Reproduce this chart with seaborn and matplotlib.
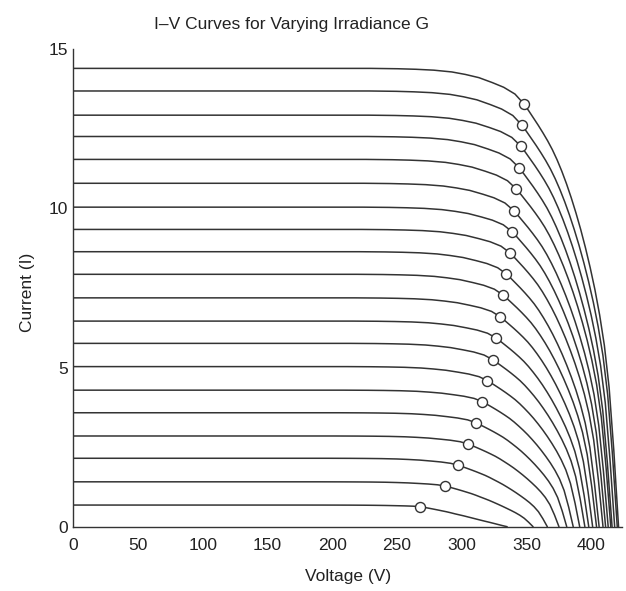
import numpy as np
import pandas as pd
import matplotlib
matplotlib.use("Agg")
import matplotlib.pyplot as plt
import seaborn as sns

# =====================
# DATA
# =====================
g_levels = [50, 100, 150, 200, 250, 300, 350, 400, 450, 500,
            550, 600, 650, 700, 750, 800, 850, 900, 950, 1000]

# short-circuit current of each curve (A)
isc = [0.68, 1.41, 2.15, 2.85, 3.58, 4.29, 5.03, 5.76, 6.46, 7.19,
       7.93, 8.64, 9.34, 10.04, 10.79, 11.54, 12.26, 12.93, 13.69, 14.40]
# open-circuit voltage of each curve (V)
voc = [335, 355, 366, 375, 381, 386, 391, 395, 398, 401,
       404, 406, 409, 411, 413, 415, 416, 418, 420, 421]
# maximum power points (circles)
vmp = [268.0, 287.0, 297.3, 304.8, 310.7, 315.8, 319.7, 323.7, 326.4, 329.5,
       331.8, 334.4, 337.0, 338.8, 340.1, 342.1, 344.2, 345.5, 346.3, 348.0]
imp = [0.63, 1.28, 1.93, 2.60, 3.27, 3.93, 4.59, 5.25, 5.93, 6.60,
       7.28, 7.94, 8.61, 9.27, 9.93, 10.61, 11.28, 11.96, 12.62, 13.28]

# knee before the MPP: V / Vmp  vs  share of the drop Isc -> Imp
knee_v = [0.0, 0.66, 0.72, 0.76, 0.80, 0.84, 0.87, 0.90, 0.93, 0.955, 0.98, 1.0]
knee_drop = [0.0, 0.0, 0.01, 0.025, 0.05, 0.10, 0.17, 0.26, 0.40, 0.53, 0.72, 1.0]

# tail after the MPP: (V - Vmp) / (Voc - Vmp)  vs  I / Imp
tail_t = [0.0, 0.05, 0.1, 0.15, 0.2, 0.25, 0.3, 0.35, 0.4, 0.45, 0.5,
          0.55, 0.6, 0.65, 0.7, 0.75, 0.8, 0.85, 0.9, 0.95, 1.0]
tail_high = [1.0, 0.984, 0.967, 0.950, 0.932, 0.913, 0.892, 0.868, 0.841, 0.811, 0.778,
             0.742, 0.703, 0.660, 0.613, 0.561, 0.501, 0.429, 0.330, 0.180, 0.0]
tail_low = [1.0, 0.96, 0.92, 0.878, 0.835, 0.79, 0.746, 0.695, 0.64, 0.59, 0.54,
            0.485, 0.43, 0.375, 0.32, 0.267, 0.215, 0.16, 0.105, 0.05, 0.0]
# how close each curve's tail looks to the high-irradiance one
tail_mix = [0.0, 0.45, 0.62, 0.72, 0.78, 0.82, 0.85, 0.87, 0.89, 0.91,
            0.92, 0.93, 0.94, 0.95, 0.96, 0.97, 0.97, 0.98, 0.99, 1.0]

# =====================
# BUILD TABLE
# =====================
rows = []
for k, g in enumerate(g_levels):
    for s, d in zip(knee_v, knee_drop):
        rows.append((g, s * vmp[k], isc[k] - d * (isc[k] - imp[k])))
    for t, hi, lo in zip(tail_t[1:], tail_high[1:], tail_low[1:]):
        r = tail_mix[k] * hi + (1 - tail_mix[k]) * lo
        rows.append((g, vmp[k] + t * (voc[k] - vmp[k]), imp[k] * r))
df = pd.DataFrame(rows, columns=["G", "V", "I"])
mpp = pd.DataFrame({"G": g_levels, "V": vmp, "I": imp})

# =====================
# PLOT
# =====================
sns.set_style("white")
plt.rcParams["font.family"] = ["Liberation Sans", "DejaVu Sans"]

fig = plt.figure(figsize=(6.26, 5.91), dpi=100)
ax = fig.add_axes([0.117, 0.1088, 0.8773, 0.8078])

line_col = "#333333"
sns.lineplot(data=df, x="V", y="I", units="G", estimator=None, sort=False,
             color=line_col, linewidth=1.1, ax=ax)
sns.scatterplot(data=mpp, x="V", y="I", marker="o", s=52, color="white",
                edgecolor=line_col, linewidth=1.0, zorder=3, ax=ax)

ax.set_xlim(0, 424)
ax.set_ylim(0, 15)
ax.set_xticks(range(0, 401, 50))
ax.set_yticks([0, 5, 10, 15])
ax.tick_params(direction="in", length=4, width=0.8, colors="#222222", labelsize=12.5)
ax.tick_params(axis="x", pad=8)
ax.tick_params(axis="y", pad=4)
sns.despine(ax=ax)
for side in ["left", "bottom"]:
    ax.spines[side].set_color("#333333")
    ax.spines[side].set_linewidth(1.0)

ax.set_xlabel("Voltage (V)", fontsize=12.5, color="#222222")
ax.set_ylabel("Current (I)", fontsize=12.5, color="#222222")
ax.xaxis.set_label_coords(0.5, -0.088)
ax.yaxis.set_label_coords(-0.07, 0.49)

fig.text(292 / 626, 1 - 25 / 591, "I\u2013V Curves for Varying Irradiance G",
         ha="center", va="center", fontsize=12.5, color="#222222")

fig.savefig("out.png", dpi=100, facecolor="white")
